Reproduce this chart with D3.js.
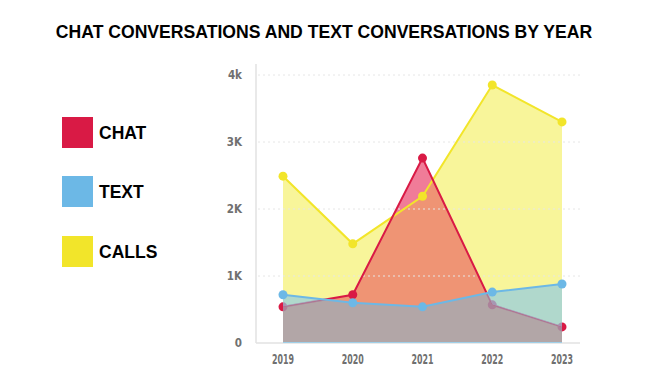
<!DOCTYPE html>
<html><head><meta charset="utf-8">
<script src="https://cdn.jsdelivr.net/npm/d3@7"></script>
<style>
body{margin:0;background:#fff;}
svg{display:block;}
.tick-label{font-family:"Liberation Sans Narrow","DejaVu Sans Condensed","DejaVu Sans",sans-serif;font-stretch:condensed;font-weight:bold;fill:#707070;}
</style>
</head><body>
<svg id="chart" width="670" height="380"></svg>
<script>
const years = ["2019","2020","2021","2022","2023"];
const chat = [540, 720, 2760, 570, 240];
const text = [720, 600, 540, 760, 880];
const calls = [2490, 1480, 2190, 3850, 3300];
const yTicks = [0, 1000, 2000, 3000, 4000];
const yTickLabels = ["0", "1K", "2K", "3K", "4k"];
const seriesNames = ["CHAT", "TEXT", "CALLS"];
const seriesColors = ["#d91a45", "#6cb8e6", "#f2e52a"];

const svg = d3.select("#chart");
const defs = svg.append("defs");
const x = d3.scalePoint().domain(years).range([283, 562]);
const y = d3.scaleLinear().domain([0, 4000]).range([343, 75]);

svg.append("text").attr("x", 324).attr("y", 37.5).attr("text-anchor", "middle")
  .attr("font-family", "Liberation Sans, Arial, sans-serif").attr("font-weight", "bold")
  .attr("font-size", 17.6).attr("fill", "#000")
  .text("CHAT CONVERSATIONS AND TEXT CONVERSATIONS BY YEAR");

// axes lines
svg.append("line").attr("x1", 256).attr("x2", 256).attr("y1", 64).attr("y2", y(0))
  .attr("stroke", "#e2e2e2").attr("stroke-width", 1.5);
svg.append("line").attr("x1", 256).attr("x2", 580).attr("y1", y(0)).attr("y2", y(0))
  .attr("stroke", "#e2e2e2").attr("stroke-width", 1.5);

const area = d3.area().x((d, i) => x(years[i])).y0(y(0)).y1(d => y(d));
const line = d3.line().x((d, i) => x(years[i])).y(d => y(d));

// clip / mask definitions
defs.append("clipPath").attr("id", "clipCalls").append("path").datum(calls).attr("d", area);
defs.append("clipPath").attr("id", "clipChat").append("path").datum(chat).attr("d", area);
const mask = defs.append("mask").attr("id", "maskNoChat");
mask.append("rect").attr("x", 0).attr("y", 0).attr("width", 670).attr("height", 380).attr("fill", "#fff");
mask.append("path").datum(chat).attr("d", area).attr("fill", "#000");

// fills
svg.append("path").datum(chat).attr("d", area).attr("fill", "rgb(240,124,152)");
svg.append("path").datum(calls).attr("d", area).attr("fill", "rgb(248,245,154)");
svg.append("path").datum(chat).attr("d", area).attr("fill", "rgb(239,148,116)")
  .attr("clip-path", "url(#clipCalls)");

// gridlines
yTicks.slice(1).forEach(t => {
  svg.append("line").attr("x1", 258).attr("x2", 580).attr("y1", y(t)).attr("y2", y(t))
    .attr("stroke", "#e6e6e6").attr("stroke-width", 1).attr("stroke-dasharray", "2,3");
});

function drawLine(vals, color) {
  svg.append("path").datum(vals).attr("d", line).attr("fill", "none")
    .attr("stroke", color).attr("stroke-width", 2);
  svg.selectAll(null).data(vals).enter().append("circle")
    .attr("cx", (d, i) => x(years[i])).attr("cy", d => y(d)).attr("r", 4.5).attr("fill", color);
}
drawLine(calls, seriesColors[2]);
drawLine(chat, seriesColors[0]);

// text area fills (semi-transparent, over chat line)
svg.append("path").datum(text).attr("d", area).attr("fill", "rgb(145,204,225)")
  .attr("fill-opacity", 0.7).attr("mask", "url(#maskNoChat)");
svg.append("path").datum(text).attr("d", area).attr("fill", "rgb(153,174,190)")
  .attr("fill-opacity", 0.7).attr("clip-path", "url(#clipChat)");
svg.append("line").attr("x1", x(years[0])).attr("x2", x(years[years.length - 1]))
  .attr("y1", y(0) - 0.5).attr("y2", y(0) - 0.5).attr("stroke", "#9fcfe8").attr("stroke-width", 1);
drawLine(text, seriesColors[1]);

// y tick labels
svg.selectAll(null).data(yTicks).enter().append("text").attr("class", "tick-label")
  .attr("font-size", 11.5).attr("x", 242).attr("y", d => y(d) + 4).attr("text-anchor", "end")
  .text((d, i) => yTickLabels[i]);
// x tick labels
svg.selectAll(null).data(years).enter().append("text").attr("class", "tick-label")
  .attr("font-size", 14.5).attr("x", d => x(d)).attr("y", 364).attr("text-anchor", "middle")
  .attr("textLength", 22).attr("lengthAdjust", "spacingAndGlyphs").text(d => d);

// legend
const legY = [117, 176, 236];
seriesNames.forEach((n, i) => {
  svg.append("rect").attr("x", 62).attr("y", legY[i]).attr("width", 31).attr("height", 31)
    .attr("fill", seriesColors[i]);
  svg.append("text").attr("x", 99).attr("y", legY[i] + 22)
    .attr("font-family", "Liberation Sans, Arial, sans-serif").attr("font-weight", "bold")
    .attr("font-size", 17.5).attr("fill", "#000").text(n);
});
</script>
</body></html>
